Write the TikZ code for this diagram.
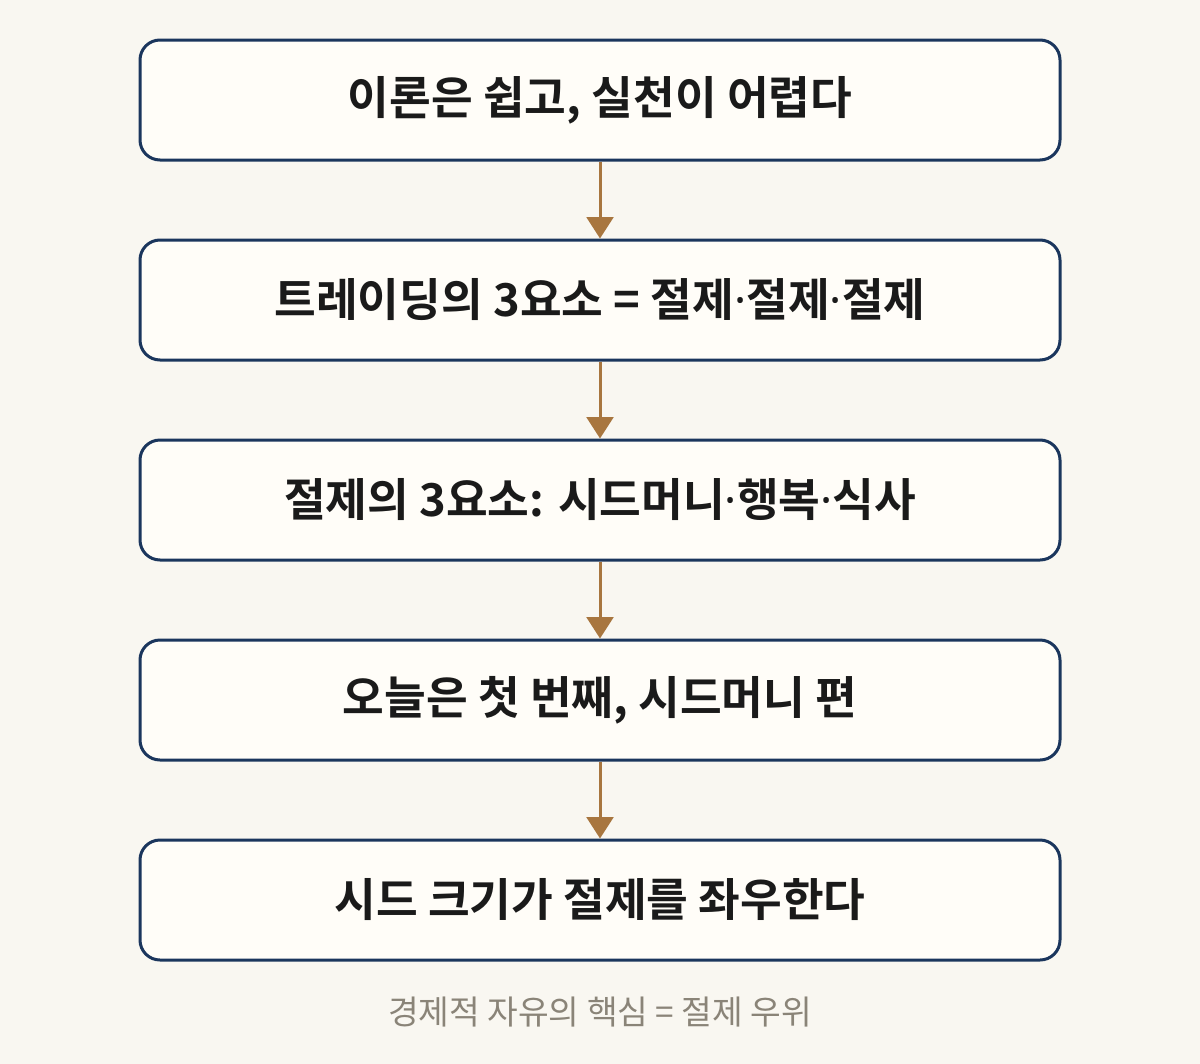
\documentclass[tikz,border=0pt]{standalone}
\usepackage{fontspec}
\newfontfamily\kr{Noto Sans CJK KR}
\newfontfamily\krb{Noto Sans CJK KR Bold}
\newfontfamily\dotf{Noto Sans}
\newcommand\mdot{{\dotf\bfseries ·}}
\usetikzlibrary{arrows.meta}
\definecolor{bgc}{HTML}{F9F7F1}
\definecolor{boxfill}{HTML}{FFFDF8}
\definecolor{navy}{HTML}{1B365D}
\definecolor{arrowc}{HTML}{A8763F}
\definecolor{capc}{HTML}{8A8478}
\definecolor{txtc}{HTML}{1A1A1A}
\tikzset{
  px/.style={x=0.75pt,y=-0.75pt},
  stepbox/.style={draw=navy, line width=2.25pt, fill=boxfill, rounded corners=15pt,
    minimum width=690pt, minimum height=90pt, inner sep=0pt, text=txtc,
    font=\krb\fontsize{34pt}{38pt}\selectfont},
  flow/.style={draw=arrowc, line width=2.25pt, -{Triangle[width=20pt,length=16pt]}},
  captxt/.style={text=capc, font=\kr\fontsize{25pt}{30pt}\selectfont, inner sep=0pt}
}
\begin{document}
\begin{tikzpicture}[px]
\fill[bgc] (0,0) rectangle (1200,1064);
\useasboundingbox (0,0) rectangle (1200,1064);
\node[stepbox] (b1) at (600,100) {이론은 쉽고, 실천이 어렵다};
\node[stepbox] (b2) at (600,300) {트레이딩의 3요소 = 절제\mdot 절제\mdot 절제};
\node[stepbox] (b3) at (600,500) {절제의 3요소: 시드머니\mdot 행복\mdot 식사};
\node[stepbox] (b4) at (600,700) {오늘은 첫 번째, 시드머니 편};
\node[stepbox] (b5) at (600,900) {시드 크기가 절제를 좌우한다};
\node[captxt] (cap) at (600,1012) {경제적 자유의 핵심 = 절제 우위};
\draw[flow] (b1.south) -- (b2.north);
\draw[flow] (b2.south) -- (b3.north);
\draw[flow] (b3.south) -- (b4.north);
\draw[flow] (b4.south) -- (b5.north);
\end{tikzpicture}
\end{document}
